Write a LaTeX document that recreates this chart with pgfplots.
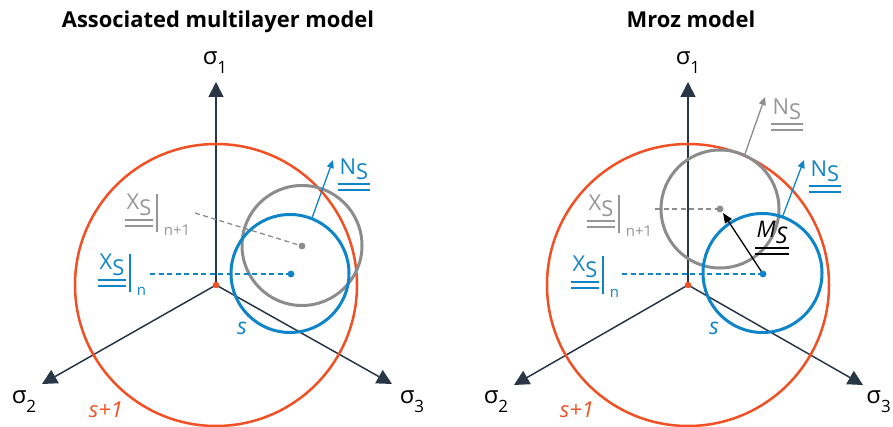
\documentclass[border=0pt]{standalone}
\usepackage{fontspec}
\setmainfont{Open Sans}
\usepackage{pgfplots}
\pgfplotsset{compat=1.18}
\usetikzlibrary{arrows.meta}
\definecolor{cred}{RGB}{240,80,35}
\definecolor{cblue}{RGB}{14,133,200}
\definecolor{cgrey}{RGB}{140,140,140}
\definecolor{cgreyt}{RGB}{150,150,150}
\definecolor{cnavy}{RGB}{40,54,70}
\newcommand\dul[1]{\vtop{\hbox{\kern1.5bp#1\kern1.5bp}\kern3bp\hrule height1.6bp\kern4.5bp\hrule height1.6bp}}
\newcommand\XSlab[1]{{\fontsize{22}{22}\selectfont\dul{X\raisebox{-6bp}{S}}\kern3bp\rule[-22bp]{2bp}{38bp}\kern6bp\raisebox{-26bp}{\fontsize{15}{15}\selectfont #1}}}
\newcommand\NSlab{{\fontsize{22}{22}\selectfont\dul{N\raisebox{-5bp}{S}}}}
\newcommand\MSlab{{\fontsize{23}{23}\selectfont\dul{\itshape M\raisebox{-6bp}{S}}}}
\newcommand\sig[1]{{\fontsize{24}{24}\selectfont σ\raisebox{-9bp}{\fontsize{17}{17}\selectfont #1}}}
\pgfplotsset{
  panel/.style={width=446.5bp, height=427bp, scale only axis, axis lines=none,
    clip=false, ymin=-142, ymax=285, anchor=south west},
  saxis/.style={cnavy, line width=1.5bp, -{Triangle[length=15bp,width=15bp]}},
  narrow/.style={line width=1.3bp, -{Triangle[length=8bp,width=7bp]}},
  dash/.style={line width=1.3bp, dash pattern=on 5bp off 3.5bp},
}
\tikzset{lab/.style={inner sep=0pt, anchor=base west}}
\begin{document}
\begin{tikzpicture}
% ---------------- Left panel ----------------
\begin{axis}[panel, at={(0bp,0bp)}, xmin=-216, xmax=230.5]
\addplot[saxis] coordinates {(0,0) (0,203)};
\addplot[saxis] coordinates {(0,0) (-174,-99)};
\addplot[saxis] coordinates {(0,0) (176,-99)};
\draw[cred, line width=2.5bp] (axis cs:0,0) circle[radius=141];
\draw[cgrey, line width=3bp] (axis cs:86,39.5) circle[radius=60];
\draw[cblue, line width=3bp] (axis cs:74,11.5) circle[radius=59];
\addplot[cgrey, dash] coordinates {(-21,72) (86,39)};
\addplot[cblue, dash] coordinates {(-66,11) (75,11)};
\addplot[cblue, narrow] coordinates {(96,67) (117,125)};
\addplot[only marks, mark=*, mark size=3.2bp, cgrey] coordinates {(86,39)};
\addplot[only marks, mark=*, mark size=3.2bp, cblue] coordinates {(75,11)};
\addplot[only marks, mark=*, mark size=3bp, cred] coordinates {(0,0)};
\node[inner sep=0pt, anchor=base] at (axis cs:2,257) {\fontsize{22}{22}\selectfont\bfseries Associated multilayer model};
\node[inner sep=0pt, anchor=base] at (axis cs:-1,220) {\sig{1}};
\node[inner sep=0pt, anchor=base] at (axis cs:-192,-118) {\sig{2}};
\node[inner sep=0pt, anchor=base] at (axis cs:196,-118) {\sig{3}};
\node[lab, text=cblue] at (axis cs:-118,15) {\XSlab{n}};
\node[lab, text=cgreyt] at (axis cs:-91,75) {\XSlab{n+1}};
\node[lab, text=cblue] at (axis cs:122,110) {\NSlab};
\node[inner sep=0pt, anchor=base, text=cblue] at (axis cs:26,-50) {\fontsize{23}{23}\selectfont\itshape s};
\node[inner sep=0pt, anchor=base, text=cred] at (axis cs:-110,-132) {\fontsize{22}{22}\selectfont\itshape s+1};
\end{axis}
% ---------------- Right panel ----------------
\begin{axis}[panel, at={(446.5bp,0bp)}, xmin=-241.5, xmax=205]
\addplot[saxis] coordinates {(0,0) (0,203)};
\addplot[saxis] coordinates {(0,0) (-174,-100)};
\addplot[saxis] coordinates {(0,0) (175,-100)};
\draw[cred, line width=2.5bp] (axis cs:0,0) circle[radius=141];
\draw[cgrey, line width=3bp] (axis cs:32,76) circle[radius=59];
\draw[cblue, line width=3bp] (axis cs:74.5,12) circle[radius=59.5];
\addplot[cgrey, dash] coordinates {(-33,76) (32,76)};
\addplot[cblue, dash] coordinates {(-66,11) (75,11)};
\addplot[cgrey, narrow] coordinates {(57,131) (77,188)};
\addplot[cblue, narrow] coordinates {(94,67) (116,125)};
\addplot[black, line width=1.3bp, -{Triangle[length=10bp,width=8bp]}] coordinates {(75,11) (35,72)};
\addplot[only marks, mark=*, mark size=3.2bp, cgrey] coordinates {(32,76)};
\addplot[only marks, mark=*, mark size=3.2bp, cblue] coordinates {(75,11)};
\addplot[only marks, mark=*, mark size=3bp, cred] coordinates {(0,0)};
\node[inner sep=0pt, anchor=base] at (axis cs:3,257) {\fontsize{22}{22}\selectfont\bfseries Mroz model};
\node[inner sep=0pt, anchor=base] at (axis cs:0,220) {\sig{1}};
\node[inner sep=0pt, anchor=base] at (axis cs:-192,-118) {\sig{2}};
\node[inner sep=0pt, anchor=base east] at (axis cs:203,-118) {\sig{3}};
\node[lab, text=cblue] at (axis cs:-117,13) {\XSlab{n}};
\node[lab, text=cgreyt] at (axis cs:-101,74) {\XSlab{n+1}};
\node[lab, text=cgreyt] at (axis cs:83,170) {\NSlab};
\node[lab, text=cblue] at (axis cs:121,108) {\NSlab};
\node[lab, text=black] at (axis cs:67,47) {\MSlab};
\node[inner sep=0pt, anchor=base, text=cblue] at (axis cs:26,-50) {\fontsize{23}{23}\selectfont\itshape s};
\node[inner sep=0pt, anchor=base, text=cred] at (axis cs:-111,-132) {\fontsize{22}{22}\selectfont\itshape s+1};
\end{axis}
\pgfresetboundingbox
\path (0bp,0bp) rectangle (893bp,427bp);
\end{tikzpicture}
\end{document}
